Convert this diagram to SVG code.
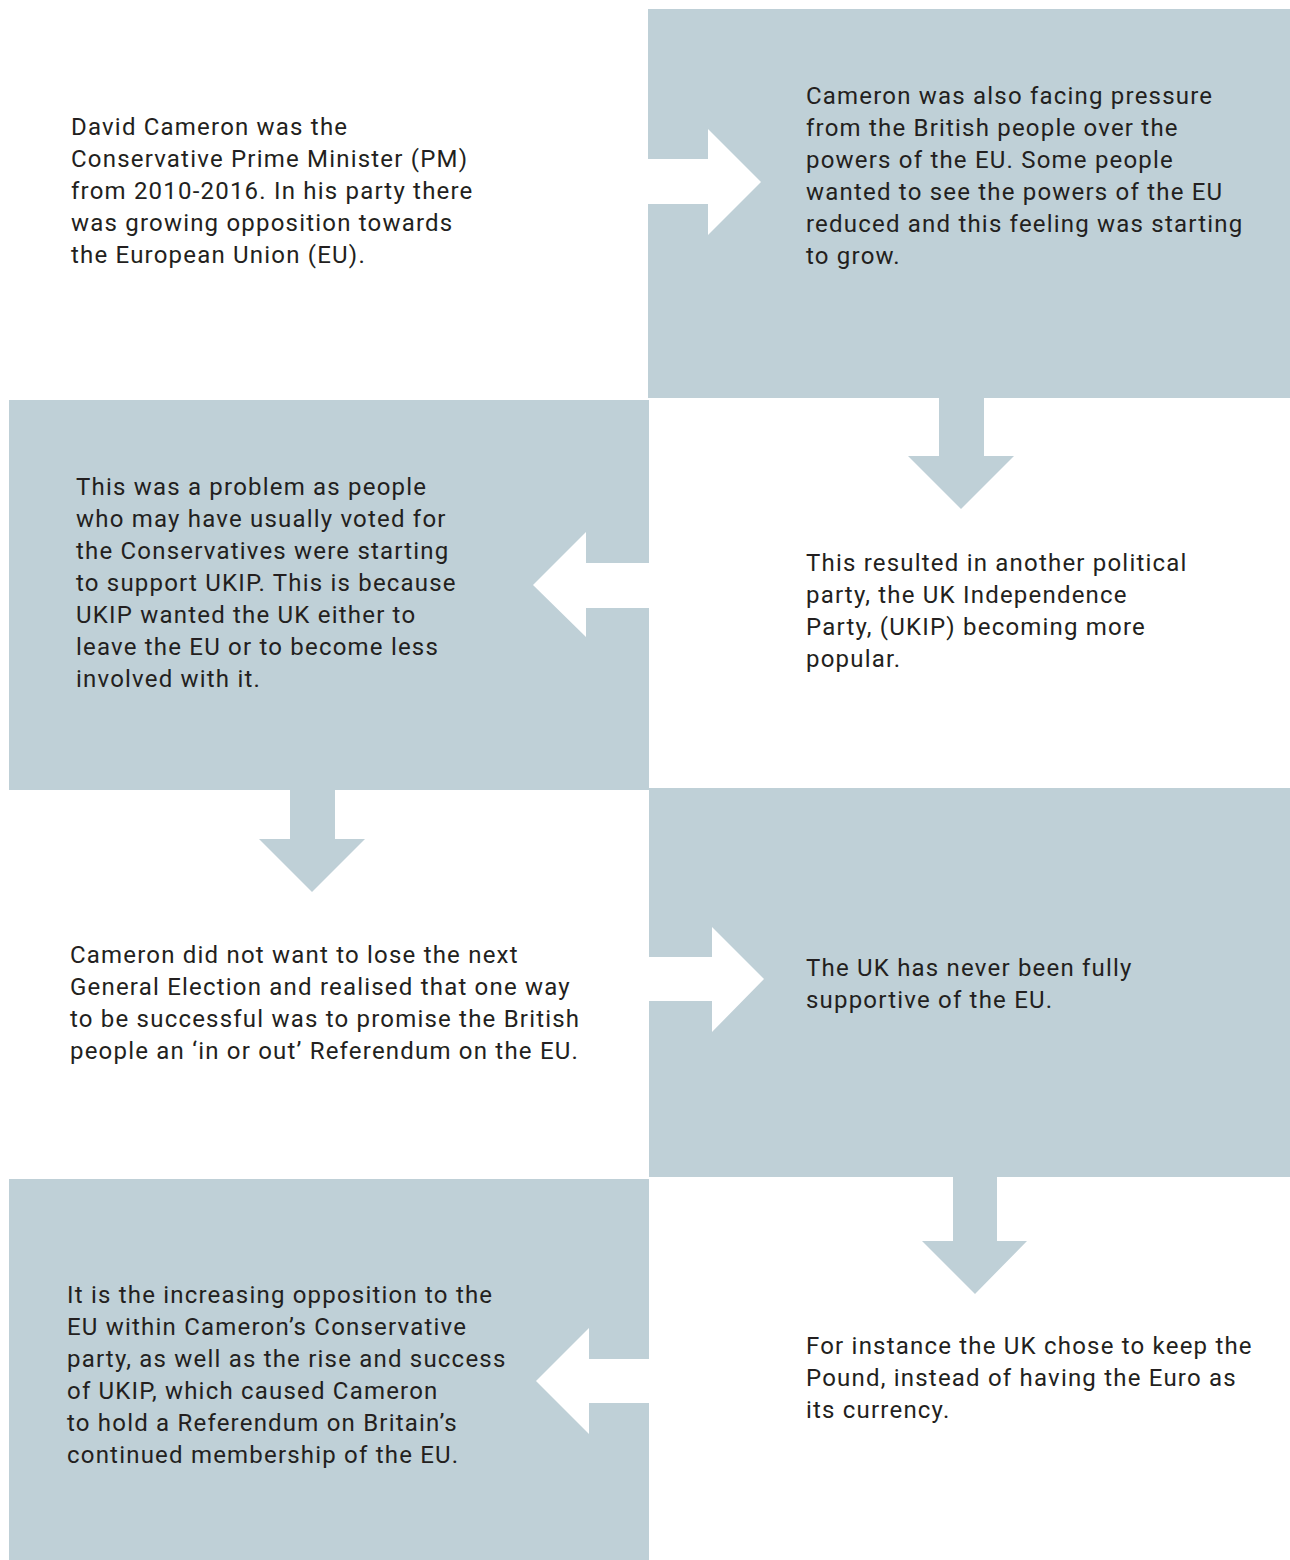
<svg xmlns="http://www.w3.org/2000/svg" width="1290" height="1560" viewBox="0 0 1290 1560">
<style>
.box{fill:#bfd0d7}
.wa{fill:#ffffff}
.ba{fill:#bfd0d7}
text{font-family:Roboto,"Liberation Sans",sans-serif;font-size:24px;letter-spacing:1.2px;fill:#231f20}
</style>
<rect width="1290" height="1560" fill="#ffffff"/>
<g id="node-a"><rect class="box" x="648" y="9" width="642" height="389"/>
<text><tspan x="806" y="104">Cameron was also facing pressure</tspan><tspan x="806" y="136">from the British people over the</tspan><tspan x="806" y="168">powers of the EU. Some people</tspan><tspan x="806" y="200">wanted to see the powers of the EU</tspan><tspan x="806" y="232">reduced and this feeling was starting</tspan><tspan x="806" y="264">to grow.</tspan></text></g>
<g id="node-b"><rect class="box" x="9" y="400" width="640" height="390"/>
<text><tspan x="76" y="495">This was a problem as people</tspan><tspan x="76" y="527">who may have usually voted for</tspan><tspan x="76" y="559">the Conservatives were starting</tspan><tspan x="76" y="591">to support UKIP. This is because</tspan><tspan x="76" y="623">UKIP wanted the UK either to</tspan><tspan x="76" y="655">leave the EU or to become less</tspan><tspan x="76" y="687">involved with it.</tspan></text></g>
<g id="node-c"><rect class="box" x="649" y="788" width="641" height="389"/>
<text><tspan x="806" y="976">The UK has never been fully</tspan><tspan x="806" y="1008">supportive of the EU.</tspan></text></g>
<g id="node-d"><rect class="box" x="9" y="1179" width="640" height="381"/>
<text><tspan x="67" y="1303">It is the increasing opposition to the</tspan><tspan x="67" y="1335">EU within Cameron’s Conservative</tspan><tspan x="67" y="1367">party, as well as the rise and success</tspan><tspan x="67" y="1399">of UKIP, which caused Cameron</tspan><tspan x="67" y="1431">to hold a Referendum on Britain’s</tspan><tspan x="67" y="1463">continued membership of the EU.</tspan></text></g>
<g id="node-1"><text><tspan x="71" y="135">David Cameron was the</tspan><tspan x="71" y="167">Conservative Prime Minister (PM)</tspan><tspan x="71" y="199">from 2010-2016. In his party there</tspan><tspan x="71" y="231">was growing opposition towards</tspan><tspan x="71" y="263">the European Union (EU).</tspan></text></g>
<g id="node-2"><text><tspan x="806" y="571">This resulted in another political</tspan><tspan x="806" y="603">party, the UK Independence</tspan><tspan x="806" y="635">Party, (UKIP) becoming more</tspan><tspan x="806" y="667">popular.</tspan></text></g>
<g id="node-3"><text><tspan x="70" y="963">Cameron did not want to lose the next</tspan><tspan x="70" y="995">General Election and realised that one way</tspan><tspan x="70" y="1027">to be successful was to promise the British</tspan><tspan x="70" y="1059">people an ‘in or out’ Referendum on the EU.</tspan></text></g>
<g id="node-4"><text><tspan x="806" y="1354">For instance the UK chose to keep the</tspan><tspan x="806" y="1386">Pound, instead of having the Euro as</tspan><tspan x="806" y="1418">its currency.</tspan></text></g>
<g id="connectors">
<polygon class="wa" points="648,159 708,159 708,129 761,182 708,235 708,204 648,204"/>
<polygon class="ba" points="939,398 984,398 984,456 1014,456 961,509 908,456 939,456"/>
<polygon class="wa" points="649,563 586,563 586,532 533,585 586,637 586,608 649,608"/>
<polygon class="ba" points="290,790 335,790 335,839 365,839 312,892 259,839 290,839"/>
<polygon class="wa" points="649,957 712,957 712,927 764,979 712,1032 712,1001 649,1001"/>
<polygon class="ba" points="953,1177 997,1177 997,1241 1027,1241 975,1294 922,1241 953,1241"/>
<polygon class="wa" points="649,1359 589,1359 589,1328 536,1381 589,1434 589,1403 649,1403"/>
</g>
</svg>
